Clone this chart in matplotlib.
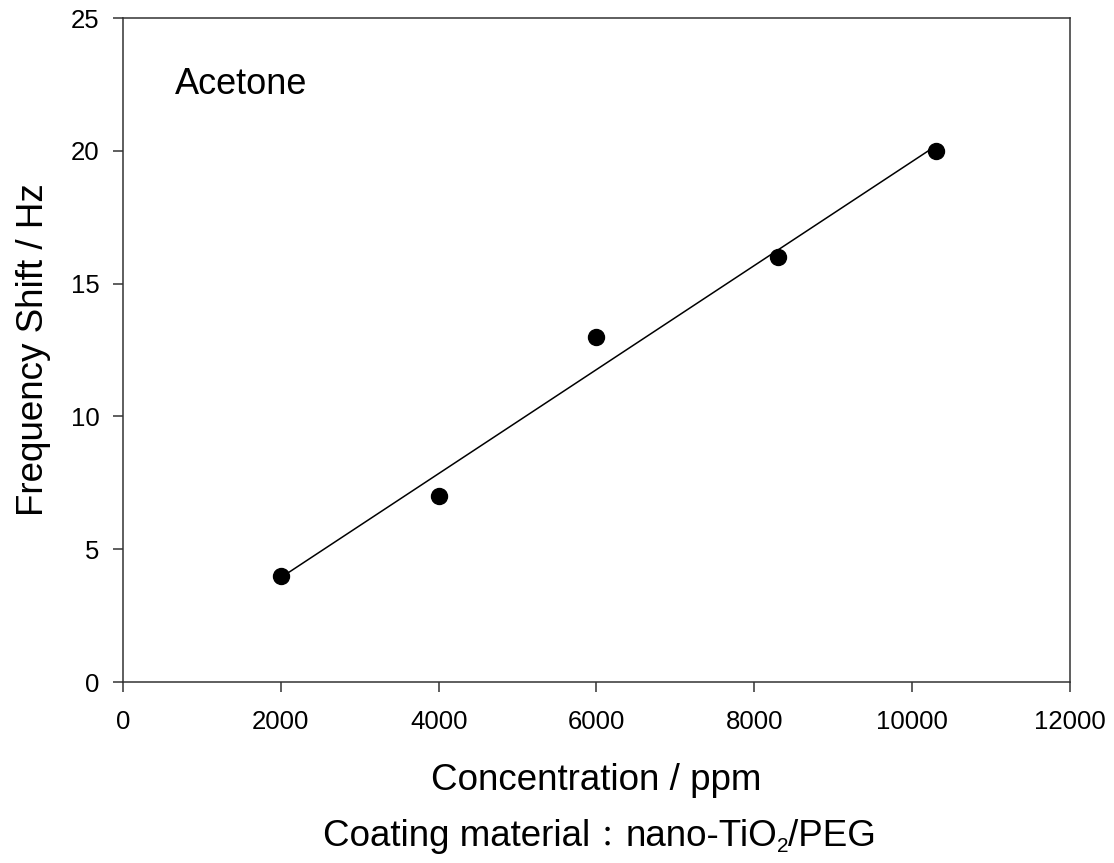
import numpy as np
import matplotlib.pyplot as plt

conc = [2000, 4000, 6000, 8300, 10300]
shift = [4, 7, 13, 16, 20]
x_ticks = [0, 2000, 4000, 6000, 8000, 10000, 12000]
y_ticks = [0, 5, 10, 15, 20, 25]

fam = ['Liberation Sans', 'Noto Sans CJK JP', 'DejaVu Sans']
plt.rcParams['font.family'] = fam

fig = plt.figure(figsize=(11.14, 8.63), dpi=100)
ax = fig.add_axes([0.1104, 0.2097, 0.8501, 0.7694])

# linear fit through the measured points
k, b = np.polyfit(conc, shift, 1)
xf = np.array([conc[0], conc[-1]])
ax.plot(xf, k * xf + b, color='black', lw=1.1)
ax.plot(conc, shift, 'o', color='black', ms=11.5, zorder=3)

ax.set_xlim(0, 12000)
ax.set_ylim(0, 25)
ax.set_xticks(x_ticks)
ax.set_yticks(y_ticks)
ax.tick_params(direction='out', length=7, width=1.1, color='#333333',
               labelsize=18.5)
ax.tick_params(axis='x', pad=13)
ax.tick_params(axis='y', pad=10)
for s in ax.spines.values():
    s.set_color('#333333')
    s.set_linewidth(1.1)

ax.set_xlabel('Concentration / ppm', fontsize=26.5, labelpad=21)
ax.set_ylabel('Frequency Shift / Hz', fontsize=26.5, labelpad=14)
ax.text(0.055, 0.9006, 'Acetone', transform=ax.transAxes, fontsize=26,
        va='center', ha='left')

# caption built in pieces: full-width colon from the CJK font, TiO2 subscript
cap = dict(ha='left', va='bottom', annotation_clip=False,
           textcoords='offset points')
t1 = fig.text(0.29, 0.0197, 'Coating material', fontsize=26.5,
              ha='left', va='baseline')
tc = ax.annotate('：', xy=(1, 0), xycoords=t1, xytext=(2, 0), fontsize=21,
                 family=['Noto Sans CJK JP'], **cap)
tn = ax.annotate('nano-TiO', xy=(1, 0), xycoords=(tc, t1), xytext=(2.5, 0),
                 fontsize=26.5, **cap)
t2 = ax.annotate('2', xy=(1, 0), xycoords=tn, xytext=(0, -1.2),
                 fontsize=15, **cap)
ax.annotate('/PEG', xy=(1, 0), xycoords=(t2, t1), xytext=(-1, 0),
            fontsize=26.5, **cap)

fig.savefig('out.png', dpi=100)
